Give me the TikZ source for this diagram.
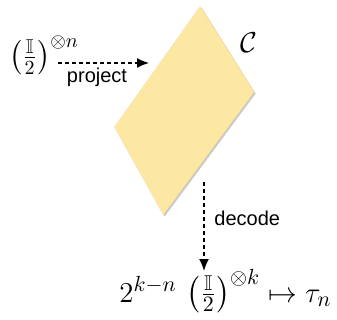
\documentclass[tikz,border=0pt]{standalone}
\usepackage{fontspec}
\setsansfont{Liberation Sans}
\usepackage{amssymb}
\usetikzlibrary{shadows,arrows.meta}
\definecolor{pfill}{RGB}{252,232,162}
\begin{document}
\begin{tikzpicture}[x=0.5pt,y=-0.5pt,
  lbl/.style={font=\sffamily\fontsize{10}{12}\selectfont, inner sep=1pt},
  mth/.style={font=\fontsize{14.4}{17}\selectfont, inner sep=0pt},
  arr/.style={dash pattern=on 2pt off 1.5pt, line width=0.75pt, -{Latex[length=6pt,width=5pt]}}]
\useasboundingbox (0,0) rectangle (337,320);
\coordinate (T) at (200,6);
\coordinate (R) at (254,92);
\coordinate (B) at (163,215);
\coordinate (L) at (114,127);
\fill[pfill, drop shadow={shadow xshift=0.8pt, shadow yshift=-0.8pt, opacity=0.35, fill=black!60}] (T) -- (R) -- (B) -- (L) -- cycle;
\node[mth] (C) at (249,43) {$\mathcal{C}$};
\node[mth] (in) at (44,55) {$\left(\frac{\mathbb{I}}{2}\right)^{\otimes n}$};
\coordinate (pa) at (58,63);
\coordinate (pb) at (149,63);
\draw[arr] (pa) -- (pb);
\node[lbl] (proj) at (97,77) {project};
\coordinate (da) at (204,182);
\node[mth, font=\fontsize{15.3}{18}\selectfont, anchor=base west] (out) at (119,302) {$2^{k-n}\,\left(\frac{\mathbb{I}}{2}\right)^{\otimes k}\mapsto\tau_n$};
\coordinate (db) at (204,271);
\draw[arr] (da) -- (db);
\node[lbl, anchor=west] (dec) at (212,218) {decode};
\end{tikzpicture}
\end{document}
